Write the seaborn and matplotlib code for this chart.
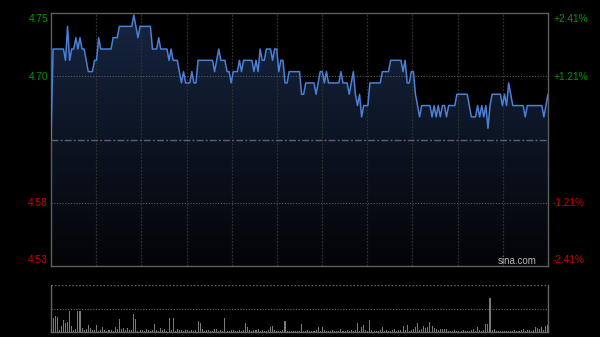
import numpy as np
import pandas as pd
import matplotlib
matplotlib.use("Agg")
import matplotlib.pyplot as plt
import seaborn as sns

# ---------------- data ----------------
prev_close = 4.64
max_pct = 2.41  # axis half-range in percent

prices = [
    4.64, 4.72, 4.72, 4.72, 4.72, 4.72, 4.72, 4.71, 4.74, 4.71,
    4.72, 4.72, 4.73, 4.72, 4.73, 4.72, 4.72, 4.71, 4.70, 4.70,
    4.70, 4.71, 4.71, 4.73, 4.72, 4.72, 4.72, 4.72, 4.72, 4.72,
    4.73, 4.73, 4.73, 4.74, 4.74, 4.74, 4.74, 4.74, 4.74, 4.74,
    4.75, 4.74, 4.73, 4.74, 4.74, 4.74, 4.74, 4.74, 4.74, 4.72,
    4.72, 4.72, 4.73, 4.72, 4.72, 4.72, 4.72, 4.71, 4.72, 4.71,
    4.71, 4.71, 4.70, 4.69, 4.70, 4.69, 4.69, 4.69, 4.70, 4.69,
    4.69, 4.71, 4.71, 4.71, 4.71, 4.71, 4.71, 4.71, 4.71, 4.70,
    4.71, 4.72, 4.71, 4.71, 4.71, 4.70, 4.70, 4.69, 4.70, 4.70,
    4.70, 4.71, 4.70, 4.71, 4.71, 4.71, 4.71, 4.71, 4.70, 4.71,
    4.70, 4.72, 4.71, 4.71, 4.72, 4.72, 4.72, 4.71, 4.72, 4.72,
    4.70, 4.71, 4.71, 4.69, 4.69, 4.70, 4.70, 4.70, 4.70, 4.70,
    4.70, 4.68, 4.68, 4.69, 4.69, 4.69, 4.69, 4.69, 4.68, 4.69,
    4.70, 4.70, 4.69, 4.70, 4.69, 4.69, 4.69, 4.69, 4.69, 4.69,
    4.70, 4.69, 4.69, 4.69, 4.68, 4.69, 4.70, 4.68, 4.67, 4.68,
    4.66, 4.67, 4.67, 4.67, 4.69, 4.69, 4.69, 4.69, 4.69, 4.69,
    4.70, 4.70, 4.70, 4.70, 4.71, 4.71, 4.71, 4.71, 4.71, 4.71,
    4.70, 4.71, 4.69, 4.69, 4.70, 4.70, 4.68, 4.67, 4.66, 4.67,
    4.67, 4.67, 4.67, 4.67, 4.66, 4.67, 4.66, 4.67, 4.66, 4.67,
    4.67, 4.66, 4.67, 4.67, 4.67, 4.67, 4.68, 4.68, 4.68, 4.68,
    4.68, 4.68, 4.67, 4.66, 4.66, 4.66, 4.67, 4.66, 4.67, 4.66,
    4.67, 4.65, 4.67, 4.68, 4.68, 4.68, 4.68, 4.68, 4.67, 4.68,
    4.67, 4.69, 4.68, 4.67, 4.67, 4.67, 4.67, 4.67, 4.67, 4.66,
    4.67, 4.67, 4.67, 4.67, 4.67, 4.67, 4.67, 4.67, 4.66, 4.67,
    4.68,
]

volumes = [
    9, 42, 47, 45, 5, 17, 37, 27, 30, 64,
    17, 5, 9, 62, 64, 12, 6, 9, 22, 12,
    5, 6, 22, 4, 7, 15, 5, 4, 5, 6,
    4, 15, 9, 39, 9, 11, 7, 12, 5, 7,
    54, 40, 4, 5, 6, 4, 9, 5, 4, 6,
    25, 5, 4, 12, 7, 9, 4, 42, 5, 42,
    4, 9, 5, 6, 4, 6, 5, 4, 6, 4,
    5, 32, 27, 9, 4, 5, 7, 4, 3, 9,
    8, 4, 5, 4, 42, 4, 3, 5, 6, 4,
    3, 6, 4, 5, 27, 15, 5, 4, 6, 5,
    9, 4, 5, 3, 4, 5, 15, 17, 5, 4,
    3, 4, 5, 32, 4, 3, 4, 3, 4, 3,
    4, 25, 4, 3, 5, 4, 3, 4, 5, 15,
    4, 14, 5, 3, 4, 3, 5, 4, 3, 4,
    10, 4, 3, 5, 4, 6, 4, 5, 27, 4,
    15, 20, 5, 4, 37, 5, 4, 3, 4, 5,
    15, 4, 5, 3, 4, 5, 9, 4, 5, 6,
    17, 5, 22, 4, 6, 9, 15, 27, 5, 9,
    17, 12, 15, 29, 19, 12, 9, 5, 9, 9,
    8, 9, 4, 3, 4, 5, 3, 4, 3, 5,
    4, 3, 4, 5, 9, 4, 15, 5, 4, 6,
    25, 25, 102, 5, 9, 4, 3, 4, 3, 4,
    3, 4, 3, 4, 5, 4, 3, 5, 10, 4,
    6, 5, 4, 5, 14, 12, 9, 15, 5, 19,
    22,
]

left_labels = ["4.75", "4.70", "4.58", "4.53"]
right_labels = ["+2.41%", "+1.21%", "-1.21%", "-2.41%"]
label_colors = ["#009900", "#009900", "#cc0000", "#cc0000"]

minutes = np.arange(len(prices))
df = pd.DataFrame({"minute": minutes, "price": prices, "volume": volumes})

# ---------------- figure ----------------
sns.set_style("white")
plt.rcParams["font.family"] = ["Liberation Sans", "DejaVu Sans"]

W, H = 600, 337
fig = plt.figure(figsize=(W / 100, H / 100), dpi=100, facecolor="black")

L, R = 51, 548
ax = fig.add_axes([L / W, 1 - 266 / H, (R - L) / W, (266 - 13) / H])
axv = fig.add_axes([L / W, 1 - 332 / H, (R - L) / W, (332 - 285) / H])

half = prev_close * max_pct / 100
ymin, ymax = prev_close - half, prev_close + half
xmax = len(prices) - 1

for a in (ax, axv):
    a.set_facecolor("black")

# gradient fill under the line
grad = np.linspace(1, 0, 256).reshape(-1, 1)
top_c = np.array([22, 37, 64]) / 255
bot_c = np.array([3, 4, 7]) / 255
img = bot_c + grad[..., None] * (top_c - bot_c)
img = img.reshape(256, 1, 3)
poly = ax.fill_between(df["minute"], df["price"], ymin, facecolor="none", edgecolor="none")
im = ax.imshow(img, extent=[0, xmax, ymin, ymax], aspect="auto", origin="upper", zorder=1)
im.set_clip_path(poly.get_paths()[0], transform=ax.transData)

# grid lines
for k in range(1, 11):
    ax.axvline(xmax * k / 11, color="#303030", lw=0.9, ls=(0, (1.5, 1.2)), zorder=2)
for frac in (0.5, -0.5):
    ax.axhline(prev_close + frac * half, color="#5e5e5e", lw=0.8, ls=(0, (1, 1.5)), zorder=2)
ax.axhline(prev_close, color="#58616f", lw=1.0, ls=(0, (5, 1.5, 1.5, 1.5)), zorder=2)

sns.lineplot(data=df, x="minute", y="price", ax=ax, color="#4a80d6", linewidth=1.1, zorder=3)

ax.set_xlim(0, xmax)
ax.set_ylim(ymin, ymax)
ax.set_xticks([])
ax.set_yticks([])
ax.set_xlabel("")
ax.set_ylabel("")
for s in ax.spines.values():
    s.set_color("#5e5e5e")
    s.set_linewidth(1.0)

# axis labels (left prices / right percentages)
label_py = [19, 77, 203, 260]
for txt, rtxt, col, py in zip(left_labels, right_labels, label_colors, label_py):
    fig.text(48 / W, 1 - py / H, txt, color=col, fontsize=7.3, ha="right", va="center")
    fig.text(553 / W, 1 - py / H, rtxt, color=col, fontsize=7.3, ha="left", va="center")

fig.text(537 / W, 1 - 261 / H, "sina.com", color="#b4b4b4", fontsize=7, ha="right", va="center")

# volume panel
sns.barplot(data=df, x="minute", y="volume", ax=axv, native_scale=True,
            color="#7a7a7a", width=0.5, saturation=1, edgecolor="none", zorder=3)
axv.set_xlim(0, xmax)
axv.set_ylim(0, 142)
axv.axhline(71, color="#6a6a6a", lw=0.8, ls=(0, (1, 1.5)), zorder=1)
axv.axhline(142, color="#6a6a6a", lw=1.0, ls=(0, (1, 1.5)), zorder=1)
axv.set_xticks([])
axv.set_yticks([])
axv.set_xlabel("")
axv.set_ylabel("")
axv.spines["top"].set_visible(False)
for side in ("left", "right", "bottom"):
    axv.spines[side].set_color("#666666")
    axv.spines[side].set_linewidth(1.0)

fig.savefig("out.png", dpi=100, facecolor="black")
